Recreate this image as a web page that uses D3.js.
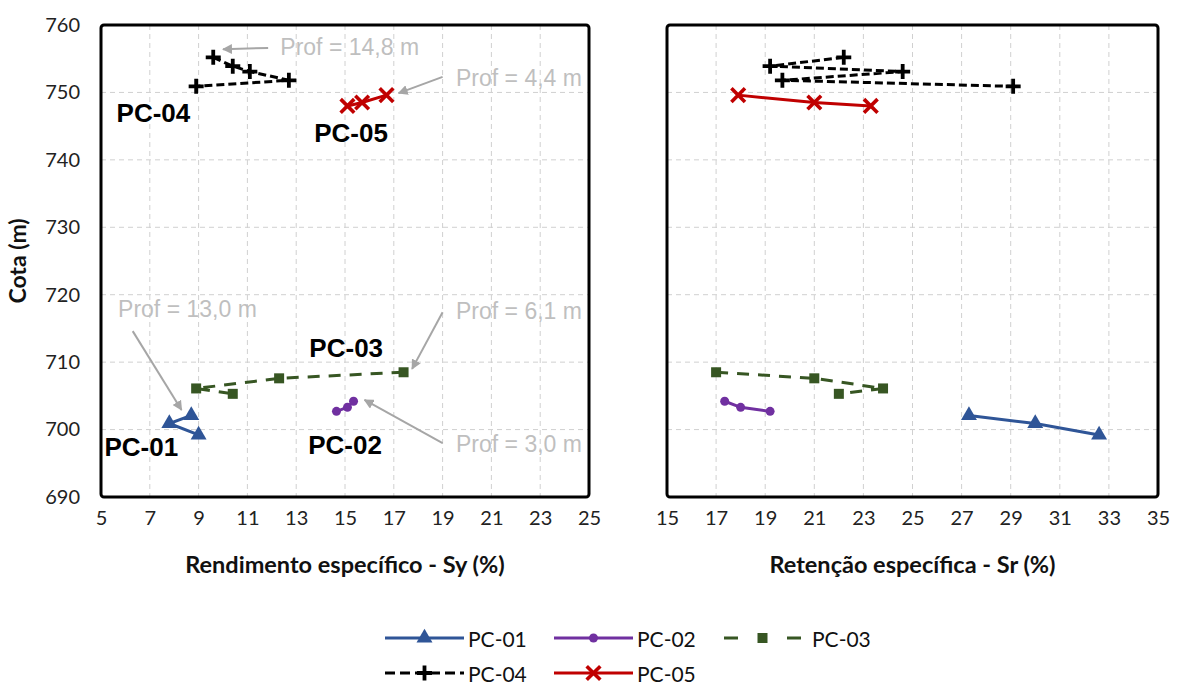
<!DOCTYPE html>
<html>
<head>
<meta charset="utf-8">
<script src="https://cdn.jsdelivr.net/npm/d3@7/dist/d3.min.js"></script>
<style>
  body { margin: 0; background: #fff; }
  text { font-family: Lato, "Liberation Sans", Arial, sans-serif; }
</style>
</head>
<body>
<svg id="chart" width="1180" height="686"></svg>
<script>
// séries : cotas (m), rendimento específico Sy (%) e retenção específica Sr (%)
const names = ["PC-01", "PC-02", "PC-03", "PC-04", "PC-05"];

const cotaPC01 = [702.1, 700.9, 699.2];
const syPC01 = [8.7, 7.8, 9.0];
const srPC01 = [27.3, 30.0, 32.6];

const cotaPC02 = [704.2, 703.3, 702.7];
const syPC02 = [15.35, 15.1, 14.65];
const srPC02 = [17.35, 18.0, 19.2];

const cotaPC03 = [708.5, 707.6, 706.1, 705.3];
const syPC03 = [17.4, 12.3, 8.9, 10.4];
const srPC03 = [17.0, 21.0, 23.8, 22.0];

const cotaPC04 = [755.2, 753.9, 753.1, 751.8, 750.9];
const syPC04 = [9.6, 10.4, 11.1, 12.7, 8.9];
const srPC04 = [22.2, 19.2, 24.6, 19.7, 29.1];

const cotaPC05 = [749.6, 748.5, 748.0];
const syPC05 = [16.7, 15.7, 15.1];
const srPC05 = [17.9, 21.0, 23.3];

// ticks
const syTicks = [5, 7, 9, 11, 13, 15, 17, 19, 21, 23, 25];
const srTicks = [15, 17, 19, 21, 23, 25, 27, 29, 31, 33, 35];
const cotaTicks = [690, 700, 710, 720, 730, 740, 750, 760];

// anotações (painel esquerdo) : texto, início do texto, seta de -> até
const annTexts = ["Prof = 14,8 m", "Prof = 4,4 m", "Prof = 13,0 m", "Prof = 6,1 m", "Prof = 3,0 m"];
const annText = [[12.35, 756.7], [19.55, 752.1], [5.7, 717.9], [19.55, 717.6], [19.55, 697.8]];
const annFrom = [[11.85, 756.6], [19.0, 752.3], [6.3, 714.6], [19.0, 717.4], [19.0, 698.0]];
const annTo = [[10.0, 756.4], [17.2, 749.9], [8.3, 702.9], [17.75, 709.0], [15.8, 704.4]];

// rótulos dos poços (painel esquerdo)
const lblNames = ["PC-04", "PC-05", "PC-03", "PC-01", "PC-02"];
const lblPos = [[7.15, 746.9], [15.25, 744.0], [15.05, 712.1], [6.65, 697.4], [15.0, 697.7]];

// estilos
const colors = ["#2F5597", "#7030A0", "#375623", "#000000", "#C00000"];
const dashes = [null, null, "12,9", "8,4", null];
const legDashes = [null, null, "14,49,14", "10,5", null];
const shapes = ["triangle", "circle", "square", "plus", "cross"];

const series = [
  {cota: cotaPC01, sy: syPC01, sr: srPC01},
  {cota: cotaPC02, sy: syPC02, sr: srPC02},
  {cota: cotaPC03, sy: syPC03, sr: srPC03},
  {cota: cotaPC04, sy: syPC04, sr: srPC04},
  {cota: cotaPC05, sy: syPC05, sr: srPC05}
].map((s, i) => ({name: names[i], color: colors[i], dash: dashes[i], shape: shapes[i],
  pts: s.cota.map((c, j) => ({cota: c, sy: s.sy[j], sr: s.sr[j]}))}));

const svg = d3.select("#chart");
const yTop = 25, yBot = 497;

const y = d3.scaleLinear().domain([690, 760]).range([yBot, yTop]);
const xSy = d3.scaleLinear().domain([5, 25]).range([101, 589]);
const xSr = d3.scaleLinear().domain([15, 35]).range([667, 1158]);

// marcadores
function marker(g, shape, color) {
  if (shape == "triangle") {
    g.append("path").attr("d", d3.symbol().type(d3.symbolTriangle).size(110)())
      .attr("fill", color);
  } else if (shape == "circle") {
    g.append("circle").attr("r", 4.5).attr("fill", color);
  } else if (shape == "square") {
    g.append("rect").attr("x", -5).attr("y", -5).attr("width", 10).attr("height", 10)
      .attr("fill", color);
  } else if (shape == "plus") {
    const r = 7.5;
    g.append("path").attr("d", `M${-r},0H${r}M0,${-r}V${r}`)
      .attr("stroke", color).attr("stroke-width", 3.8).attr("fill", "none");
  } else if (shape == "cross") {
    const r = 6.8;
    g.append("path").attr("d", `M${-r},${-r}L${r},${r}M${-r},${r}L${r},${-r}`)
      .attr("stroke", color).attr("stroke-width", 3.6).attr("fill", "none");
  }
}

function panel(x, key, ticks, title, showY) {
  const g = svg.append("g");
  const x0 = x.range()[0], x1 = x.range()[1];

  // grade
  g.selectAll(".vg").data(ticks.slice(1, -1)).enter().append("line")
    .attr("x1", d => x(d)).attr("x2", d => x(d)).attr("y1", yTop).attr("y2", yBot)
    .attr("stroke", "#d0d0d0").attr("stroke-width", 1).attr("stroke-dasharray", "5,4");
  g.selectAll(".hg").data(cotaTicks.slice(1, -1)).enter().append("line")
    .attr("x1", x0).attr("x2", x1).attr("y1", d => y(d)).attr("y2", d => y(d))
    .attr("stroke", "#d0d0d0").attr("stroke-width", 1).attr("stroke-dasharray", "5,4");

  // eixo x
  const ax = g.append("g").attr("transform", `translate(0,${yBot + 14})`)
    .call(d3.axisBottom(x).tickValues(ticks).tickSize(0).tickPadding(0).tickFormat(d3.format("d")));
  ax.select(".domain").remove();
  ax.selectAll("text").attr("font-size", 20).attr("fill", "#222").attr("dy", "0.71em")
    .style("font-family", "Lato, sans-serif");

  g.append("text").attr("x", (x0 + x1) / 2).attr("y", 573)
    .attr("text-anchor", "middle").attr("font-size", 23.5).attr("font-weight", "bold")
    .attr("fill", "#111").text(title);

  if (showY) {
    const ay = g.append("g").attr("transform", `translate(${x0 - 21},0)`)
      .call(d3.axisLeft(y).tickValues(cotaTicks).tickSize(0).tickPadding(0));
    ay.select(".domain").remove();
    ay.selectAll("text").attr("font-size", 20).attr("fill", "#222")
      .style("font-family", "Lato, sans-serif");
    g.append("text").attr("transform", `translate(26,${(yTop + yBot) / 2}) rotate(-90)`)
      .attr("text-anchor", "middle").attr("font-size", 23).attr("font-weight", "bold")
      .attr("fill", "#111").text("Cota (m)");
  }

  // linhas e marcadores
  const line = d3.line().x(d => x(d[key])).y(d => y(d.cota));
  series.forEach(s => {
    g.append("path").datum(s.pts).attr("d", line)
      .attr("fill", "none").attr("stroke", s.color).attr("stroke-width", 3)
      .attr("stroke-dasharray", s.dash);
    s.pts.forEach(p => {
      const m = g.append("g").attr("transform", `translate(${x(p[key])},${y(p.cota)})`);
      marker(m, s.shape, s.color);
    });
  });

  // moldura
  g.append("rect").attr("x", x0).attr("y", yTop).attr("width", x1 - x0).attr("height", yBot - yTop)
    .attr("rx", 3).attr("fill", "none").attr("stroke", "#000").attr("stroke-width", 3);
  return g;
}

const gL = panel(xSy, "sy", syTicks, "Rendimento específico - Sy (%)", true);
panel(xSr, "sr", srTicks, "Retenção específica - Sr (%)", false);

// setas e textos das anotações
svg.append("defs").append("marker").attr("id", "arr")
  .attr("viewBox", "0 0 10 10").attr("refX", 9).attr("refY", 5)
  .attr("markerWidth", 5).attr("markerHeight", 5).attr("orient", "auto")
  .append("path").attr("d", "M0,0L10,5L0,10z").attr("fill", "#a6a6a6");

annTexts.forEach((t, i) => {
  gL.append("line")
    .attr("x1", xSy(annFrom[i][0])).attr("y1", y(annFrom[i][1]))
    .attr("x2", xSy(annTo[i][0])).attr("y2", y(annTo[i][1]))
    .attr("stroke", "#a6a6a6").attr("stroke-width", 2).attr("marker-end", "url(#arr)");
  gL.append("text").attr("x", xSy(annText[i][0])).attr("y", y(annText[i][1]))
    .attr("dominant-baseline", "central").attr("font-size", 23).attr("fill", "#bfbfbf")
    .style("font-family", "'Liberation Sans', Arial, sans-serif").text(t);
});

lblNames.forEach((t, i) => {
  gL.append("text").attr("x", xSy(lblPos[i][0])).attr("y", y(lblPos[i][1]))
    .attr("text-anchor", "middle").attr("dominant-baseline", "central")
    .attr("font-size", 26).attr("font-weight", "bold").attr("fill", "#000")
    .style("font-family", "'Liberation Sans', Arial, sans-serif").text(t);
});

// legenda
const legX = [385, 554, 724, 385, 554];
const legY = [638, 638, 638, 673, 673];
series.forEach((s, i) => {
  const lg = svg.append("g").attr("transform", `translate(${legX[i]},${legY[i]})`);
  const len = i == 2 ? 77 : 79;
  lg.append("line").attr("x1", 0).attr("x2", len).attr("stroke", s.color).attr("stroke-width", 3)
    .attr("stroke-dasharray", legDashes[i]);
  marker(lg.append("g").attr("transform", `translate(${len / 2},0)`), s.shape, s.color);
  lg.append("text").attr("x", i == 2 ? 88 : 83).attr("dominant-baseline", "central")
    .attr("font-size", 21).attr("fill", "#111").text(s.name);
});
</script>
</body>
</html>
